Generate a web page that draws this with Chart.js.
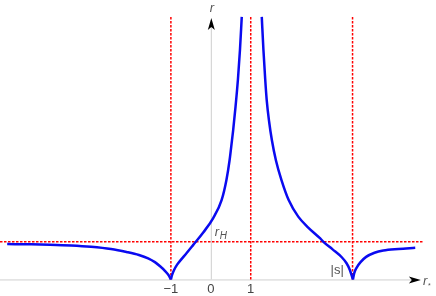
<!DOCTYPE html>
<html>
<head>
<meta charset="utf-8">
<script src="https://cdn.jsdelivr.net/npm/chart.js@4"></script>
<style>
html, body { margin: 0; padding: 0; background: #fff; }
#wrap { width: 436px; height: 296px; }
</style>
</head>
<body>
<div id="wrap"><canvas id="chart"></canvas></div>
<script>
        // r(r*) en cuatro tramos monotonos
        const farLeftX = [-5.10, -4.50, -4.03, -3.50, -3.00, -2.50, -2.11, -1.80, -1.57, -1.40, -1.27, -1.15, -1.06, -1.00];
        const farLeftR = [0.94, 0.935, 0.925, 0.905, 0.87, 0.81, 0.73, 0.65, 0.56, 0.46, 0.35, 0.23, 0.12, 0.00];
        const innerLeftX = [-1.00, -0.97, -0.92, -0.84, -0.75, -0.60, -0.44, -0.19, 0.06, 0.27, 0.39, 0.47, 0.53, 0.56, 0.62, 0.68, 0.73, 0.775];
        const innerLeftR = [0.00, 0.12, 0.25, 0.40, 0.52, 0.71, 0.92, 1.25, 1.63, 2.11, 2.64, 3.17, 3.70, 3.97, 4.60, 5.33, 6.10, 6.98];
        const innerRightX = [1.276, 1.318, 1.362, 1.40, 1.46, 1.53, 1.63, 1.77, 1.95, 2.19, 2.44, 2.74, 2.82, 3.05, 3.28, 3.40, 3.48, 3.56];
        const innerRightR = [6.98, 6.10, 5.33, 4.77, 4.20, 3.70, 3.17, 2.64, 2.11, 1.67, 1.38, 1.09, 1.00, 0.80, 0.59, 0.43, 0.26, 0.00];
        const farRightX = [3.56, 3.59, 3.65, 3.75, 3.89, 4.10, 4.32, 4.70, 5.12];
        const farRightR = [0.00, 0.16, 0.31, 0.46, 0.60, 0.71, 0.77, 0.81, 0.84];

        // lineas de referencia
        const verticalLines = [-1, 1, 3.55];
        const rH = 1;
        const lineTop = 6.98;
        const hLineFrom = -5.28;
        const hLineTo = 5.32;

        const tickValues = [-1, 0, 1];
        const tickLabels = ['\u22121', '0', '1'];

        const toPoints = (xs, ys) => xs.map((x, i) => ({ x: x, y: ys[i] }));

        const blueCurve = (xs, ys) => ({
            data: toPoints(xs, ys),
            borderColor: '#0a0af0',
            borderWidth: 2.5,
            pointRadius: 0,
            showLine: true,
            cubicInterpolationMode: 'monotone',
            order: 0
        });

        const redDash = {
            borderColor: '#ff0000',
            borderWidth: 1.5,
            borderDash: [2.5, 1.5],
            pointRadius: 0,
            showLine: true,
            order: 2
        };

        const datasets = [
            blueCurve(farLeftX, farLeftR),
            blueCurve(innerLeftX, innerLeftR),
            blueCurve(innerRightX, innerRightR),
            blueCurve(farRightX, farRightR),
            Object.assign({ data: [{ x: hLineFrom, y: rH }, { x: hLineTo, y: rH }] }, redDash)
        ];
        verticalLines.forEach(v => {
            datasets.push(Object.assign({ data: [{ x: v, y: 0 }, { x: v, y: lineTop }] }, redDash));
        });

        // ejes con flechas y etiquetas
        const axesPlugin = {
            id: 'axes',
            beforeDatasetsDraw(chart) {
                const ctx = chart.ctx;
                const xs = chart.scales.x, ys = chart.scales.y;
                const y0 = ys.getPixelForValue(0);
                const x0 = xs.getPixelForValue(0);
                const xTip = xs.getPixelForValue(5.26);
                const yTip = ys.getPixelForValue(6.95);
                ctx.save();
                ctx.strokeStyle = '#cfcfcf';
                ctx.lineWidth = 1;
                ctx.beginPath();
                ctx.moveTo(0, y0 + 0.5); ctx.lineTo(xTip - 4, y0 + 0.5);
                ctx.moveTo(x0 + 0.5, y0); ctx.lineTo(x0 + 0.5, yTip + 4);
                ctx.stroke();
                ctx.fillStyle = '#000';
                ctx.beginPath();
                ctx.moveTo(xTip, y0 + 0.5);
                ctx.lineTo(xTip - 12, y0 + 0.5 - 3.5);
                ctx.lineTo(xTip - 9, y0 + 0.5);
                ctx.lineTo(xTip - 12, y0 + 0.5 + 3.5);
                ctx.closePath(); ctx.fill();
                ctx.beginPath();
                ctx.moveTo(x0 + 0.5, yTip);
                ctx.lineTo(x0 + 0.5 - 3.5, yTip + 12);
                ctx.lineTo(x0 + 0.5, yTip + 9);
                ctx.lineTo(x0 + 0.5 + 3.5, yTip + 12);
                ctx.closePath(); ctx.fill();

                ctx.fillStyle = '#444';
                ctx.font = '13px "Liberation Sans", Arial, sans-serif';
                ctx.textAlign = 'center';
                ctx.textBaseline = 'middle';
                tickValues.forEach((v, i) => {
                    ctx.fillText(tickLabels[i], xs.getPixelForValue(v), y0 + 10);
                });

                ctx.fillStyle = '#555';
                ctx.font = 'italic 13px "Liberation Sans", Arial, sans-serif';
                ctx.fillText('r', x0 + 1, 8);
                ctx.textAlign = 'left';
                ctx.fillText('r', 423, 281);
                ctx.font = '7px "Liberation Sans", Arial, sans-serif';
                ctx.fillText('*', 428, 286);

                ctx.font = 'italic 13px "Liberation Sans", Arial, sans-serif';
                ctx.fillText('r', xs.getPixelForValue(0.1), ys.getPixelForValue(1.25));
                ctx.font = 'italic 10px "Liberation Sans", Arial, sans-serif';
                ctx.fillText('H', xs.getPixelForValue(0.1) + 5, ys.getPixelForValue(1.15));
                ctx.font = '13px "Liberation Sans", Arial, sans-serif';
                ctx.fillText('|s|', xs.getPixelForValue(3.0), ys.getPixelForValue(0.24));
                ctx.restore();
            }
        };

        const chart = new Chart(document.getElementById('chart'), {
            type: 'scatter',
            data: { datasets: datasets },
            options: {
                responsive: true,
                maintainAspectRatio: false,
                animation: false,
                layout: { padding: 0 },
                plugins: { legend: { display: false }, tooltip: { enabled: false } },
                scales: {
                    x: { type: 'linear', min: -5.28, max: 5.64, display: false },
                    y: { type: 'linear', min: -0.44, max: 7.43, display: false }
                }
            },
            plugins: [axesPlugin]
        });
</script>
</body>
</html>
